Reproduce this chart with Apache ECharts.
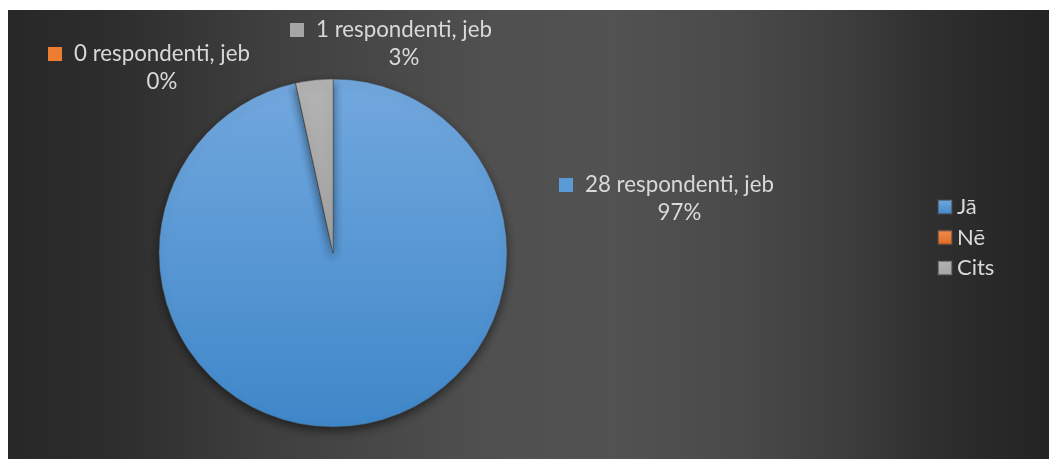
<!DOCTYPE html>
<html>
<head>
<meta charset="utf-8">
<script src="https://cdn.jsdelivr.net/npm/echarts@6/dist/echarts.min.js"></script>
<style>
html,body{margin:0;padding:0;background:#fff;}
#c{width:1049px;height:459px;}
</style>
</head>
<body>
<div id="c"></div>
<script>
var categories = ['Jā', 'Nē', 'Cits'];
var respondents = [28, 0, 1];
var labelSuffix = ' respondenti, jeb';

var FONT = 'Lato';
var TXT = '#d9d9d9';

var sliceColors = [
  new echarts.graphic.LinearGradient(0, 0, 0, 1, [{offset: 0, color: '#72a8de'}, {offset: 1, color: '#3f87c9'}]),
  new echarts.graphic.LinearGradient(0, 0, 0, 1, [{offset: 0, color: '#f28d50'}, {offset: 1, color: '#e0691f'}]),
  new echarts.graphic.LinearGradient(0, 0, 0, 1, [{offset: 0, color: '#b3b3b3'}, {offset: 1, color: '#a3a3a3'}])
];
var markerColors = ['#5b9bd5', '#ed7d31', '#a5a5a5'];

// label anchor (top-left of label block) per slice
var labelAnchors = [[559, 171], [48, 40], [290, 16]];

var chart = echarts.init(document.getElementById('c'), null, {renderer: 'canvas'});

var rich = {
  gap: {width: 12, height: 28, lineHeight: 28, align: 'center'},
  pad: {width: 26, height: 28, lineHeight: 28, align: 'center'},
  t: {fontFamily: FONT, fontSize: 22.3, color: TXT, lineHeight: 28, align: 'center'}
};
markerColors.forEach(function (c, i) {
  rich['sq' + i] = {width: 14, height: 14, backgroundColor: c, align: 'center'};
});

var option = {
  animation: false,
  backgroundColor: '#ffffff',
  graphic: [{
    type: 'rect',
    left: 8, top: 10, z: -10,
    shape: {width: 1041, height: 449},
    style: {
      fill: new echarts.graphic.LinearGradient(0, 0, 1, 0, [
        {offset: 0, color: '#282828'},
        {offset: 0.1, color: '#2d2d2d'},
        {offset: 0.25, color: '#3f3f3f'},
        {offset: 0.45, color: '#4f4f4f'},
        {offset: 0.58, color: '#525252'},
        {offset: 0.7, color: '#4a4a4a'},
        {offset: 0.8, color: '#3e3e3e'},
        {offset: 0.88, color: '#303030'},
        {offset: 0.95, color: '#282828'},
        {offset: 1, color: '#242424'}
      ])
    }
  }],
  legend: {
    orient: 'vertical',
    left: 932,
    top: 187,
    itemWidth: 14,
    itemHeight: 14,
    itemGap: 0.5,
    icon: 'rect',
    textStyle: {color: TXT, fontFamily: FONT, fontSize: 22, lineHeight: 30},
    data: categories
  },
  series: [{
    type: 'pie',
    center: [333, 253],
    radius: 174,
    startAngle: 90,
    clockwise: true,
    avoidLabelOverlap: false,
    percentPrecision: 0,
    minAngle: 0,
    emphasis: {disabled: true},
    itemStyle: {
      borderColor: 'rgba(70,70,70,0.55)',
      borderWidth: 0.8,
      shadowBlur: 10,
      shadowOffsetY: 4,
      shadowColor: 'rgba(0,0,0,0.5)'
    },
    labelLine: {show: false},
    label: {
      show: true,
      position: 'outside',
      formatter: function (p) {
        return '{sq' + p.dataIndex + '|}{gap|}{t|' + p.value + labelSuffix + '}\n{pad|}{t|' + p.percent + '%}';
      },
      rich: rich
    },
    labelLayout: function (p) {
      var a = labelAnchors[p.dataIndex];
      return {x: a[0], y: a[1], align: 'left', verticalAlign: 'top'};
    },
    data: categories.map(function (name, i) {
      return {name: name, value: respondents[i], itemStyle: {color: sliceColors[i]}};
    })
  }]
};
chart.setOption(option);
</script>
</body>
</html>
